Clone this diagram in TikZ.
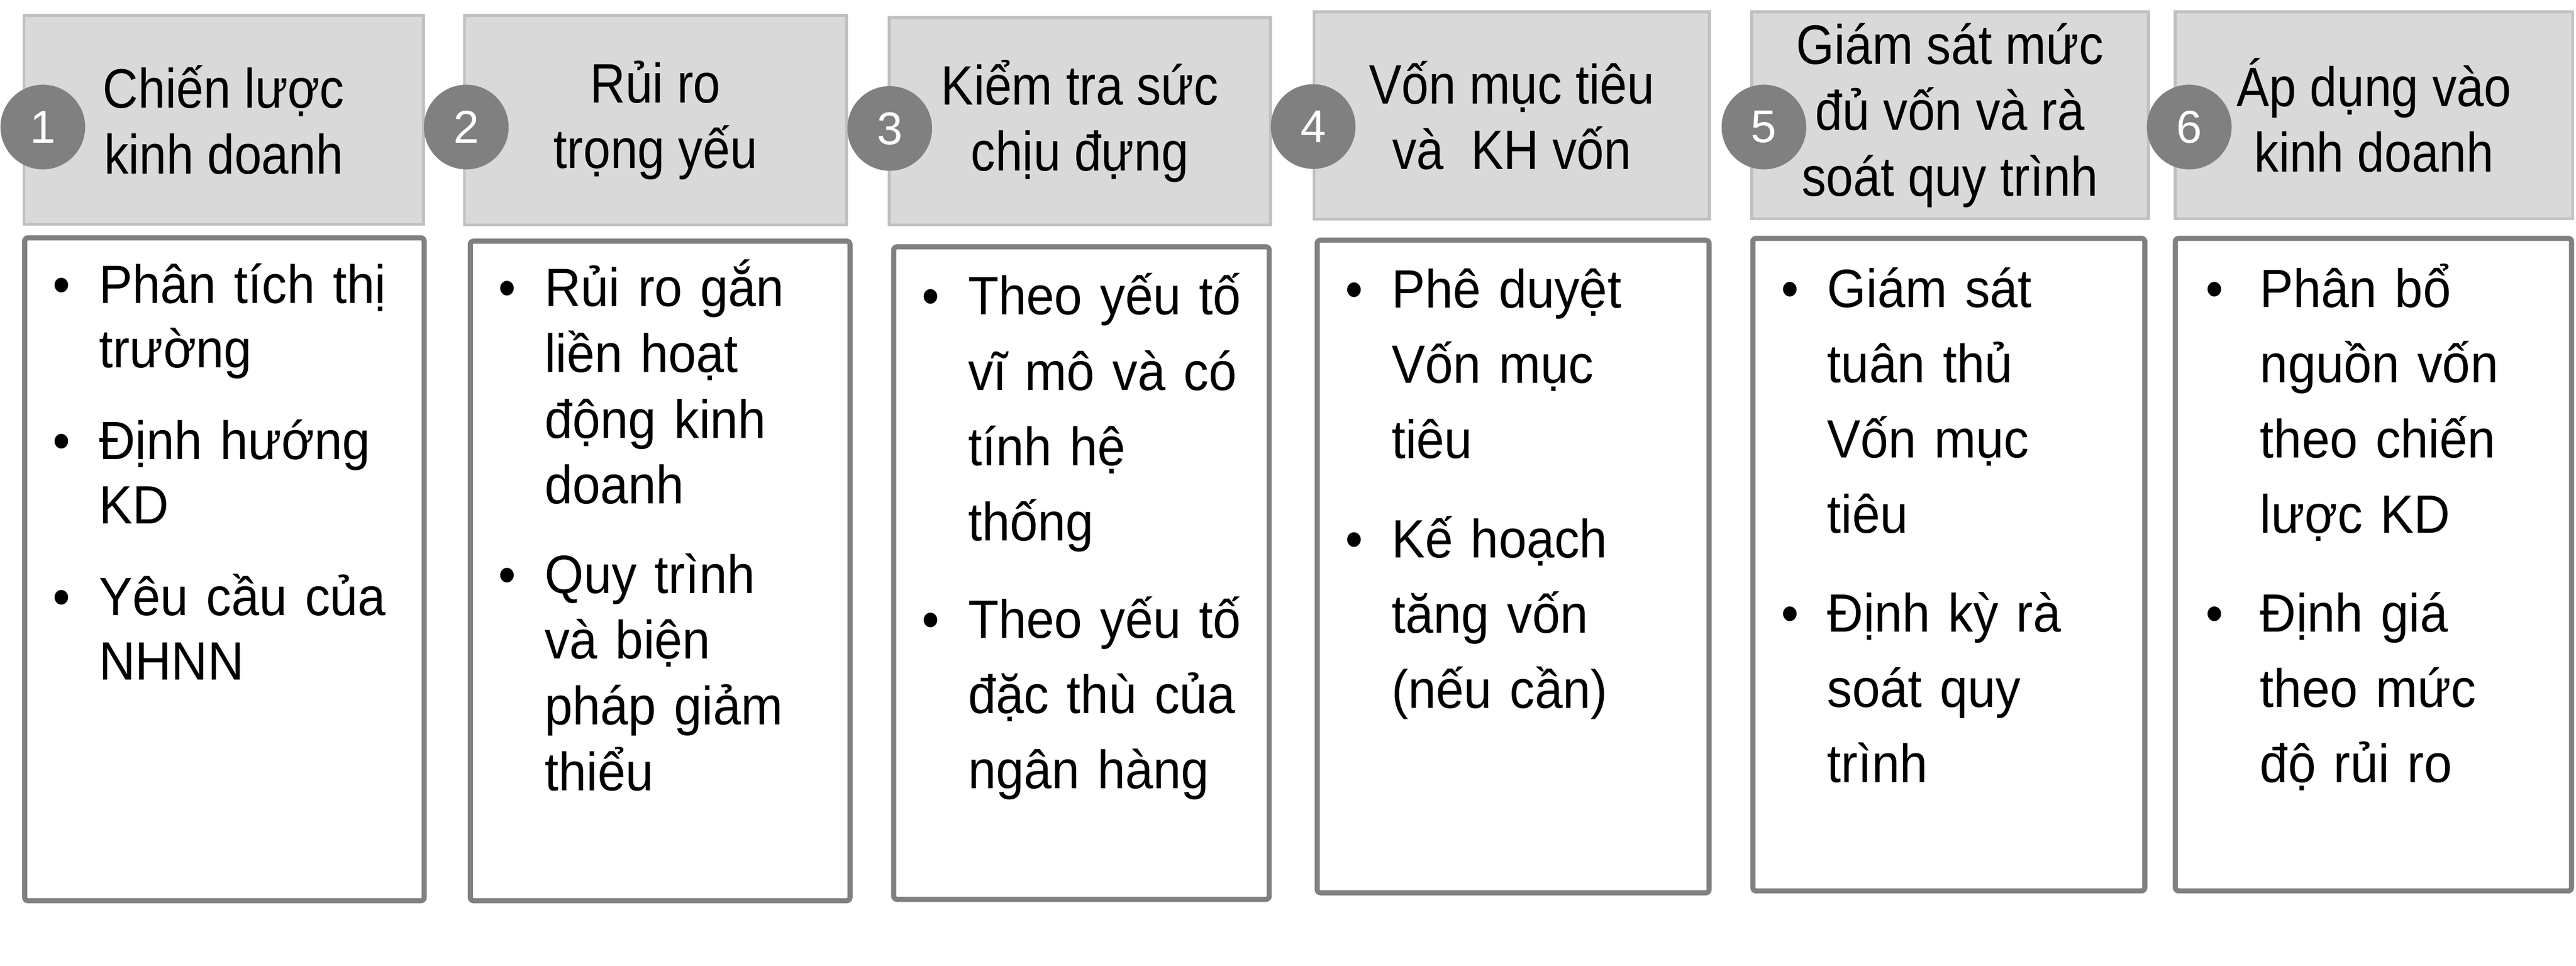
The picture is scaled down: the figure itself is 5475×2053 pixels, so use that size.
\documentclass[tikz,border=0pt]{standalone}
\usepackage{fontspec}
\setmainfont{Liberation Sans}
\newfontfamily\headfont[FakeStretch=0.88]{Liberation Sans}
\newfontfamily\itemfont[FakeStretch=0.93]{Liberation Sans}
\definecolor{headgray}{HTML}{D9D9D9}
\definecolor{headline}{HTML}{C0C0C0}
\definecolor{boxline}{HTML}{808080}
\definecolor{numgray}{HTML}{808080}
\newlength\bind
\setlength\bind{27.9pt}
\newcommand\bdot{\makebox[\bind][l]{\textbullet}}
\newcommand\bgo{\hspace*{\bind}}

\begin{document}
\begin{tikzpicture}[x=0.1mm,y=-0.1mm,
		head/.style={draw=headline,line width=1.7pt,fill=headgray,align=center,inner sep=0pt,
			font=\headfont\fontsize{33.6}{39.8}\selectfont},
		body/.style={draw=boxline,line width=3.1pt,fill=white,rounded corners=2pt,inner sep=0pt},
		num/.style={circle,fill=numgray,text=white,minimum size=18mm,inner sep=0pt,
			font=\fontsize{27.8}{33}\selectfont},
		items/.style={anchor=base west,inner sep=0pt,text width=80mm,align=left,
			font=\itemfont\fontsize{32.6}{#1}\selectfont}]
		\useasboundingbox (0,0) rectangle (5475,2053);
		% headers
		\node[head,minimum width=84.9mm,minimum height=44.4mm](h1) at (475.5,255) {Chiến lược\\kinh doanh};
		\node[head,minimum width=81.2mm,minimum height=44.5mm](h2) at (1393,255.5) {Rủi ro\\trọng yếu};
		\node[head,minimum width=81.0mm,minimum height=44.1mm](h3) at (2295,257.5) {Kiểm tra sức\\chịu đựng};
		\node[head,minimum width=84.0mm,minimum height=44.1mm](h4) at (3213,245.5) {Vốn mục tiêu\\và\ \ KH vốn};
		\node[head,minimum width=84.3mm,minimum height=44.0mm](h5) at (4144.5,245) {Giám sát mức\\đủ vốn và rà\\soát quy trình};
		\node[head,minimum width=84.5mm,minimum height=44.0mm](h6) at (5045.5,245) {Áp dụng vào\\kinh doanh};
		% step numbers
		\node[num](n1) at (91,270) {1};
		\node[num](n2) at (991,270) {2};
		\node[num](n3) at (1891,273) {3};
		\node[num](n4) at (2791,269) {4};
		\node[num](n5) at (3749,270) {5};
		\node[num](n6) at (4653,270) {6};
		% boxes
		\node[body,minimum width=84.9mm,minimum height=140.9mm](b1) at (477,1210) {};
		\node[body,minimum width=80.7mm,minimum height=140.2mm](b2) at (1403,1213.5) {};
		\node[body,minimum width=79.8mm,minimum height=138.7mm](b3) at (2298.5,1218) {};
		\node[body,minimum width=83.3mm,minimum height=138.7mm](b4) at (3216,1204) {};
		\node[body,minimum width=83.3mm,minimum height=138.7mm](b5) at (4142,1200) {};
		\node[body,minimum width=84.2mm,minimum height=138.7mm](b6) at (5044.5,1200) {};
		% bullet texts
		\node[items=39pt](t1) at (112,644) {\bdot Phân tích thị\\\bgo trường\\[16.5pt]
			\bdot Định hướng\\\bgo KD\\[16.5pt]
			\bdot Yêu cầu của\\\bgo NHNN};
		\node[items=39.8pt](t2) at (1059,651) {\bdot Rủi ro gắn\\\bgo liền hoạt\\\bgo động kinh\\\bgo doanh\\[14.2pt]
			\bdot Quy trình\\\bgo và biện\\\bgo pháp giảm\\\bgo thiểu};
		\node[items=45.5pt](t3) at (1959,669) {\bdot Theo yếu tố\\\bgo vĩ mô và có\\\bgo tính hệ\\\bgo thống\\[13.5pt]
			\bdot Theo yếu tố\\\bgo đặc thù của\\\bgo ngân hàng};
		\node[items=45.5pt](t4) at (2859,654) {\bdot Phê duyệt\\\bgo Vốn mục\\\bgo tiêu\\[14.8pt]
			\bdot Kế hoạch\\\bgo tăng vốn\\\bgo (nếu cần)};
		\node[items=45.5pt](t5) at (3785,653) {\bdot Giám sát\\\bgo tuân thủ\\\bgo Vốn mục\\\bgo tiêu\\[14.2pt]
			\bdot Định kỳ rà\\\bgo soát quy\\\bgo trình};
		\node[items=45.5pt](t6) at (4688,653) {\bdot\hspace{4.8pt}Phân bổ\\\bgo\hspace{4.8pt}nguồn vốn\\\bgo\hspace{4.8pt}theo chiến\\\bgo\hspace{4.8pt}lược KD\\[14.2pt]
			\bdot\hspace{4.8pt}Định giá\\\bgo\hspace{4.8pt}theo mức\\\bgo\hspace{4.8pt}độ rủi ro};
	\end{tikzpicture}
\end{document}
